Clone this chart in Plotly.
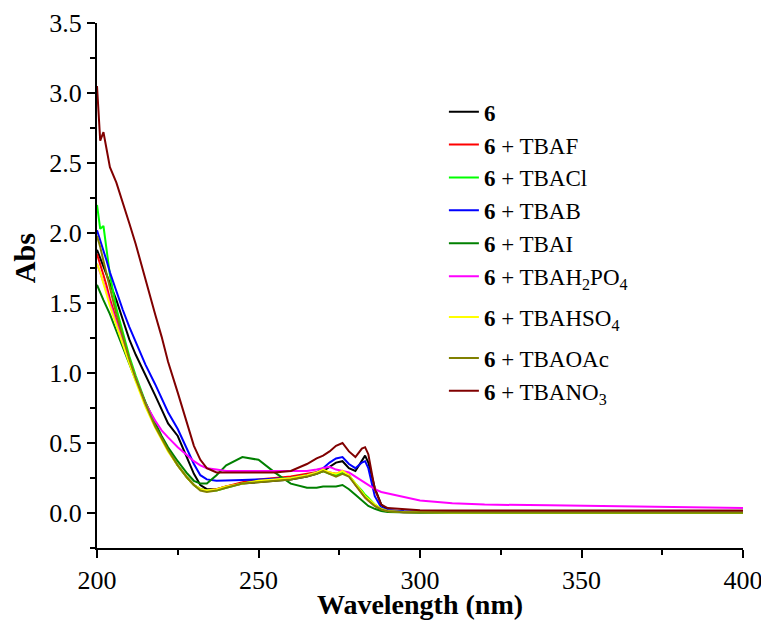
import plotly.graph_objects as go

wavelength = [200, 201, 202, 203, 204, 206, 208, 210, 212, 215, 218, 220, 222, 225, 228, 230, 232, 234,
              237, 240, 245, 250, 255, 260, 265, 268, 270, 272, 274, 276, 278, 280, 282, 283, 284, 286,
              288, 290, 295, 300, 310, 320, 340, 360, 380, 400]

abs_6 = [1.88, 1.82, 1.76, 1.70, 1.64, 1.52, 1.38, 1.24, 1.13, 0.99, 0.84, 0.74, 0.64, 0.55, 0.39, 0.28, 0.20, 0.17,
         0.17, 0.19, 0.21, 0.22, 0.23, 0.24, 0.26, 0.28, 0.30, 0.33, 0.36, 0.37, 0.32, 0.30, 0.38, 0.41, 0.36, 0.18,
         0.06, 0.02, 0.010, 0.008, 0.007, 0.007, 0.006, 0.006, 0.006, 0.006]
abs_tbaf = [1.85, 1.78, 1.70, 1.62, 1.53, 1.38, 1.23, 1.09, 0.96, 0.77, 0.62, 0.53, 0.45, 0.34, 0.25, 0.20, 0.17, 0.16,
            0.17, 0.19, 0.22, 0.24, 0.25, 0.26, 0.28, 0.29, 0.30, 0.29, 0.28, 0.30, 0.27, 0.20, 0.14, 0.11, 0.09, 0.05,
            0.025, 0.012, 0.006, 0.005, 0.004, 0.004, 0.004, 0.004, 0.004, 0.004]
abs_tbacl = [2.20, 2.03, 2.05, 1.88, 1.70, 1.46, 1.28, 1.12, 0.98, 0.79, 0.63, 0.54, 0.45, 0.34, 0.25, 0.20, 0.17, 0.16,
             0.16, 0.18, 0.21, 0.23, 0.24, 0.25, 0.27, 0.28, 0.30, 0.28, 0.27, 0.29, 0.27, 0.21, 0.16, 0.13, 0.11, 0.06,
             0.03, 0.015, 0.007, 0.005, 0.004, 0.004, 0.004, 0.004, 0.004, 0.004]
abs_tbab = [2.02, 1.95, 1.88, 1.80, 1.72, 1.58, 1.45, 1.33, 1.22, 1.06, 0.92, 0.82, 0.72, 0.60, 0.45, 0.35, 0.27, 0.24,
            0.23, 0.23, 0.235, 0.24, 0.245, 0.25, 0.27, 0.29, 0.32, 0.36, 0.39, 0.40, 0.35, 0.32, 0.36, 0.37, 0.32, 0.12,
            0.04, 0.02, 0.012, 0.010, 0.010, 0.010, 0.010, 0.010, 0.010, 0.010]
abs_tbai = [1.63, 1.57, 1.52, 1.47, 1.42, 1.30, 1.18, 1.06, 0.95, 0.79, 0.64, 0.55, 0.47, 0.37, 0.28, 0.23, 0.21, 0.21,
            0.27, 0.34, 0.40, 0.38, 0.29, 0.21, 0.18, 0.18, 0.19, 0.19, 0.19, 0.20, 0.17, 0.13, 0.09, 0.07, 0.05, 0.03,
            0.015, 0.008, 0.003, 0.002, 0.001, 0.000, 0.000, 0.000, 0.000, 0.000]
abs_tbah2po4 = [1.78, 1.72, 1.65, 1.58, 1.50, 1.36, 1.22, 1.09, 0.96, 0.78, 0.66, 0.59, 0.54, 0.47, 0.41, 0.37, 0.34, 0.32,
                0.31, 0.30, 0.30, 0.30, 0.30, 0.30, 0.30, 0.31, 0.32, 0.33, 0.31, 0.30, 0.29, 0.26, 0.23, 0.21, 0.20, 0.17,
                0.15, 0.14, 0.11, 0.09, 0.07, 0.06, 0.055, 0.05, 0.04, 0.035]
abs_tbahso4 = [1.78, 1.72, 1.64, 1.56, 1.48, 1.34, 1.20, 1.07, 0.94, 0.76, 0.61, 0.52, 0.44, 0.34, 0.25, 0.20, 0.17, 0.16,
               0.17, 0.19, 0.21, 0.23, 0.24, 0.25, 0.27, 0.29, 0.31, 0.29, 0.28, 0.30, 0.27, 0.21, 0.15, 0.12, 0.10, 0.06,
               0.03, 0.015, 0.008, 0.005, 0.004, 0.004, 0.004, 0.004, 0.003, 0.003]
abs_tbaoac = [1.98, 1.90, 1.80, 1.70, 1.60, 1.42, 1.26, 1.10, 0.96, 0.78, 0.62, 0.53, 0.45, 0.34, 0.25, 0.20, 0.16, 0.15,
              0.16, 0.18, 0.21, 0.22, 0.23, 0.24, 0.26, 0.28, 0.30, 0.28, 0.26, 0.28, 0.26, 0.20, 0.14, 0.11, 0.09, 0.05,
              0.025, 0.012, 0.005, 0.005, 0.004, 0.004, 0.004, 0.004, 0.004, 0.004]
abs_tbano3 = [3.05, 2.66, 2.72, 2.58, 2.47, 2.36, 2.22, 2.07, 1.92, 1.66, 1.42, 1.26, 1.08, 0.86, 0.63, 0.48, 0.38, 0.32,
              0.29, 0.29, 0.29, 0.29, 0.29, 0.30, 0.35, 0.39, 0.41, 0.44, 0.48, 0.50, 0.44, 0.40, 0.46, 0.47, 0.42, 0.17,
              0.06, 0.035, 0.025, 0.020, 0.018, 0.018, 0.018, 0.018, 0.018, 0.018]

series_names = ["<b>6</b>", "<b>6</b> + TBAF", "<b>6</b> + TBACl", "<b>6</b> + TBAB", "<b>6</b> + TBAI",
                "<b>6</b> + TBAH<sub>2</sub>PO<sub>4</sub>", "<b>6</b> + TBAHSO<sub>4</sub>",
                "<b>6</b> + TBAOAc", "<b>6</b> + TBANO<sub>3</sub>"]
series_values = [abs_6, abs_tbaf, abs_tbacl, abs_tbab, abs_tbai, abs_tbah2po4, abs_tbahso4, abs_tbaoac, abs_tbano3]
series_colors = ["#000000", "#FF0000", "#00FF00", "#0000FF", "#008000", "#FF00FF", "#FFFF00", "#808000", "#800000"]
legend_groups = ["g1", "g1", "g1", "g1", "g1", "g1", "g2", "g3", "g3"]

x_ticks = [200, 250, 300, 350, 400]
y_ticks = [0.0, 0.5, 1.0, 1.5, 2.0, 2.5, 3.0, 3.5]

FONT = "Liberation Serif, Times New Roman, serif"

fig = go.Figure()
for name, vals, col, grp in zip(series_names, series_values, series_colors, legend_groups):
    fig.add_trace(go.Scatter(x=wavelength, y=vals, mode="lines", name=name, legendgroup=grp,
                             line=dict(color=col, width=2)))

fig.update_layout(
    width=761, height=612,
    margin=dict(l=89, r=26, t=15, b=72),
    paper_bgcolor="white", plot_bgcolor="white",
    font=dict(family=FONT, color="black"),
    showlegend=True,
    legend=dict(x=0.537, y=0.872, xanchor="left", yanchor="top",
                font=dict(family=FONT, size=23, color="black"),
                bgcolor="rgba(0,0,0,0)", borderwidth=0, tracegroupgap=8,
                groupclick="toggleitem"),
    xaxis=dict(range=[200, 400], tickvals=x_ticks, ticktext=[str(v) for v in x_ticks],
               automargin=False,
               showline=True, linecolor="black", linewidth=2, mirror=False,
               ticks="outside", ticklen=8, tickwidth=2, tickcolor="black",
               minor=dict(dtick=25, ticks="outside", ticklen=5, tickwidth=2, tickcolor="black"),
               showgrid=False, zeroline=False,
               tickfont=dict(family=FONT, size=26),
               title=dict(text="<b>Wavelength (nm)</b>", font=dict(family=FONT, size=28))),
    yaxis=dict(range=[-0.25, 3.5], tickvals=y_ticks, ticktext=[f"{v:.1f}" for v in y_ticks],
               automargin=False,
               showline=True, linecolor="black", linewidth=2, mirror=False,
               ticks="outside", ticklen=8, tickwidth=2, tickcolor="black",
               minor=dict(dtick=0.25, tick0=0, ticks="outside", ticklen=5, tickwidth=2, tickcolor="black"),
               showgrid=False, zeroline=False,
               tickfont=dict(family=FONT, size=26)),
    annotations=[dict(text="<b>Abs</b>", xref="paper", yref="paper", x=-0.113, y=0.552,
                      xanchor="center", yanchor="middle", textangle=-90, showarrow=False,
                      font=dict(family=FONT, size=30, color="black"))],
)

fig.write_html("out.html")
